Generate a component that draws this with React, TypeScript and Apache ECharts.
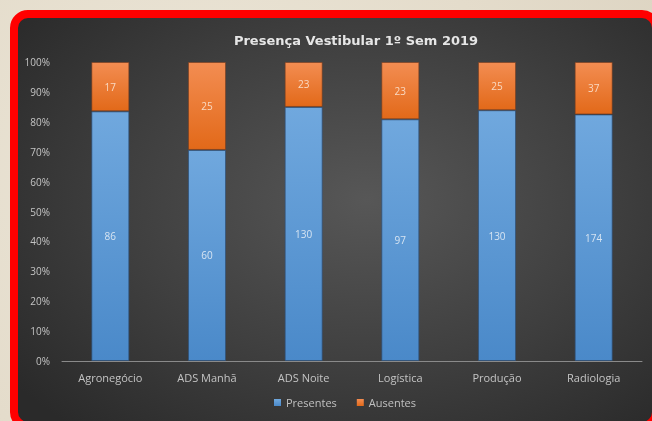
import React, { useEffect, useRef } from "react";
import * as echarts from "echarts";

const categories = ["Agronegócio", "ADS Manhã", "ADS Noite", "Logística", "Produção", "Radiologia"];
const presentes = [86, 60, 130, 97, 130, 174];
const ausentes = [17, 25, 23, 23, 25, 37];
const seriesNames = ["Presentes", "Ausentes"];
const titleText = "Presença Vestibular 1º Sem 2019";

export default function App() {
  const ref = useRef<HTMLDivElement>(null);
  useEffect(() => {
    if (!ref.current) return;
    const chart = echarts.init(ref.current, undefined, { renderer: "svg" });
    const totals = presentes.map((p, i) => p + ausentes[i]);
    const pctP = presentes.map((p, i) => ({ value: (p / totals[i]) * 100, raw: p }));
    const pctA = ausentes.map((a, i) => ({ value: (a / totals[i]) * 100, raw: a }));
    chart.setOption({
      animation: false,
      backgroundColor: "transparent",
      graphic: [
        {
          type: "text",
          x: 338,
          y: 22,
          style: {
            text: titleText,
            fill: "#e6e6e6",
            font: "bold 13px 'DejaVu Sans'",
            textAlign: "center",
            textVerticalAlign: "middle",
          },
        },
      ],
      grid: { left: 44, right: 10, top: 44, bottom: 61 },
      legend: {
        data: seriesNames,
        left: 251,
        top: 374,
        itemWidth: 7,
        itemHeight: 7,
        itemGap: 20,
        icon: "rect",
        itemStyle: { borderWidth: 0 },
        textStyle: { color: "#c0c0c0", fontSize: 11, fontFamily: "'Open Sans'" },
      },
      xAxis: {
        type: "category",
        data: categories,
        axisLine: { lineStyle: { color: "#8a8a8a", width: 1 } },
        axisTick: { show: false },
        axisLabel: { color: "#c4c4c4", fontSize: 11, margin: 11, fontFamily: "'Open Sans'" },
      },
      yAxis: {
        type: "value",
        min: 0,
        max: 100,
        interval: 10,
        axisLine: { show: false },
        axisTick: { show: false },
        splitLine: { show: false },
        axisLabel: { color: "#c4c4c4", fontSize: 10, margin: 12, formatter: "{value}%", fontFamily: "'Open Sans'" },
      },
      series: [
        {
          name: seriesNames[0],
          type: "bar",
          stack: "total",
          barWidth: 38,
          data: pctP,
          itemStyle: {
            color: new echarts.graphic.LinearGradient(0, 0, 0, 1, [
              { offset: 0, color: "#70a8de" },
              { offset: 1, color: "#4a89c9" },
            ]),
            borderColor: "rgba(45,80,120,0.7)",
            borderWidth: 1,
          },
          label: {
            show: true,
            position: "inside",
            color: "#d6e4f2",
            fontSize: 10,
            fontFamily: "'Open Sans'",
            formatter: (p: any) => String(p.data.raw),
          },
        },
        {
          name: seriesNames[1],
          type: "bar",
          stack: "total",
          barWidth: 38,
          data: pctA,
          itemStyle: {
            color: new echarts.graphic.LinearGradient(0, 0, 0, 1, [
              { offset: 0, color: "#f38d52" },
              { offset: 1, color: "#e26919" },
            ]),
            borderColor: "rgba(120,60,30,0.6)",
            borderWidth: 1,
          },
          label: {
            show: true,
            position: "inside",
            color: "#f9d9c2",
            fontSize: 10,
            fontFamily: "'Open Sans'",
            formatter: (p: any) => String(p.data.raw),
          },
        },
      ],
    });
    return () => chart.dispose();
  }, []);

  return (
    <div
      style={{
        position: "fixed",
        left: 0,
        top: 0,
        width: 652,
        height: 421,
        overflow: "hidden",
        background: "radial-gradient(circle at 30% 40%, #ece6d8 0%, #e4dccb 60%, #ddd4c2 100%)",
      }}
    >
      <div
        style={{
          position: "absolute",
          left: 10,
          top: 10,
          width: 634,
          height: 404,
          border: "8px solid #ff0000",
          borderRadius: 18,
          overflow: "hidden",
          background: "radial-gradient(ellipse 70% 75% at 55% 45%, #575757 0%, #3f3f3f 55%, #2a2a2a 100%)",
        }}
      >
        <div ref={ref} style={{ width: 634, height: 404 }} />
      </div>
    </div>
  );
}
